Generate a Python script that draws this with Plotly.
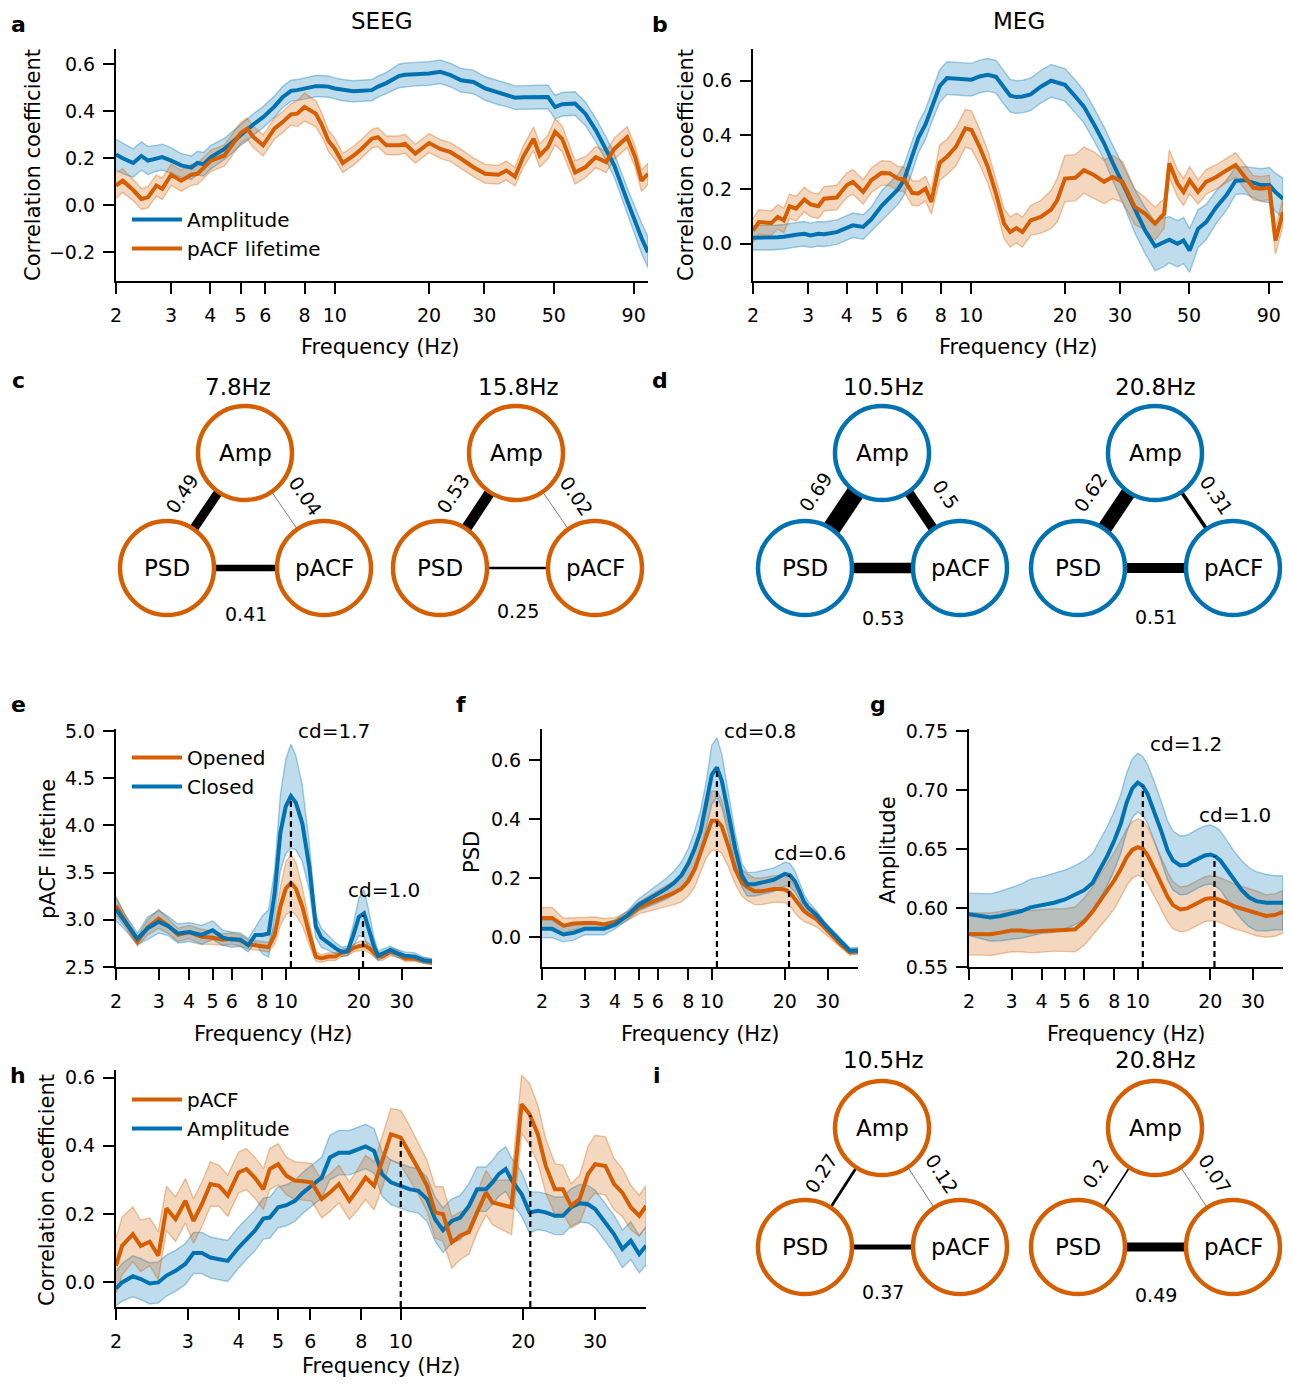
import numpy as np
import plotly.graph_objects as go

# ------------------------------------------------------------------ data
TICKS_AB = [2, 3, 4, 5, 6, 8, 10, 20, 30, 50, 90]
TICKS_EH = [2, 3, 4, 5, 6, 8, 10, 20, 30]

# panel a (SEEG)
A_FREQ = [2.0, 2.1, 2.27, 2.41, 2.53, 2.69, 2.81, 3.0, 3.23, 3.48,
          3.64, 3.81, 4.02, 4.44, 4.72, 5.0, 5.25, 5.5, 5.9, 6.41,
          6.81, 7.24, 7.58, 8.0, 8.69, 9.1, 9.52, 10.0, 10.6, 11.44,
          12.16, 13.12, 13.73, 14.6, 16.0, 16.74, 18.07, 20.0, 21.7, 23.4,
          25.3, 27.7, 30.2, 33.3, 35.3, 37.6, 39.9, 43.1, 45.1, 47.9,
          50.5, 53.2, 58.5, 63.1, 68.1, 73.5, 78.0, 85.8, 91.0, 95.4, 100.0]
A_AMP = [0.216, 0.20, 0.18, 0.21, 0.19, 0.20, 0.205, 0.19, 0.17, 0.16,
         0.18, 0.175, 0.205, 0.24, 0.27, 0.30, 0.32, 0.345, 0.375, 0.42,
         0.46, 0.487, 0.49, 0.497, 0.507, 0.507, 0.505, 0.497, 0.49, 0.485,
         0.487, 0.49, 0.505, 0.52, 0.55, 0.555, 0.558, 0.561, 0.568, 0.554,
         0.532, 0.525, 0.497, 0.478, 0.47, 0.458, 0.46, 0.461, 0.461, 0.461,
         0.418, 0.43, 0.433, 0.39, 0.32, 0.24, 0.17, 0.02, -0.07, -0.14, -0.2]
A_AMP_ERR = [0.065, 0.065, 0.060, 0.060, 0.060, 0.055, 0.055, 0.055, 0.050, 0.050,
             0.050, 0.050, 0.050, 0.045, 0.045, 0.045, 0.045, 0.045, 0.045, 0.045,
             0.045, 0.045, 0.045, 0.045, 0.045, 0.045, 0.045, 0.045, 0.045, 0.045,
             0.045, 0.045, 0.045, 0.045, 0.050, 0.050, 0.050, 0.050, 0.050, 0.050,
             0.050, 0.050, 0.050, 0.050, 0.050, 0.050, 0.050, 0.050, 0.050, 0.050,
             0.050, 0.050, 0.050, 0.050, 0.050, 0.050, 0.050, 0.055, 0.060, 0.065, 0.065]
A_PACF = [0.084, 0.105, 0.065, 0.027, 0.034, 0.084, 0.07, 0.13, 0.105, 0.13,
          0.134, 0.16, 0.19, 0.212, 0.262, 0.307, 0.326, 0.29, 0.255, 0.326,
          0.354, 0.387, 0.39, 0.418, 0.39, 0.34, 0.276, 0.24, 0.18, 0.21,
          0.24, 0.283, 0.29, 0.255, 0.255, 0.262, 0.22, 0.265, 0.24, 0.226,
          0.198, 0.162, 0.134, 0.13, 0.148, 0.122, 0.205, 0.283, 0.212, 0.248,
          0.312, 0.283, 0.14, 0.162, 0.205, 0.184, 0.24, 0.29, 0.205, 0.105, 0.134]
A_PACF_ERR = [0.055, 0.050, 0.045, 0.045, 0.045, 0.045, 0.045, 0.045, 0.045, 0.045,
              0.045, 0.045, 0.045, 0.045, 0.045, 0.045, 0.045, 0.045, 0.045, 0.045,
              0.045, 0.045, 0.055, 0.060, 0.055, 0.050, 0.045, 0.045, 0.040, 0.040,
              0.040, 0.040, 0.040, 0.040, 0.040, 0.040, 0.040, 0.040, 0.040, 0.040,
              0.040, 0.040, 0.040, 0.040, 0.040, 0.040, 0.045, 0.050, 0.050, 0.050,
              0.055, 0.055, 0.050, 0.045, 0.045, 0.045, 0.045, 0.045, 0.045, 0.045, 0.045]

# panel b (MEG)
B_FREQ = [2.0, 2.09, 2.29, 2.4, 2.51, 2.62, 2.75, 2.92, 3.06, 3.24,
          3.38, 3.71, 4.0, 4.18, 4.51, 4.79, 5.17, 5.49, 5.83, 6.1,
          6.48, 6.78, 7.15, 7.46, 7.93, 8.37, 8.94, 9.59, 10.03, 10.65,
          11.32, 12.02, 12.76, 13.35, 13.97, 14.62, 15.52, 16.73, 18.05, 18.88,
          20.0, 21.6, 23.0, 24.77, 26.7, 28.4, 30.6, 33.5, 36.1, 38.9,
          41.6, 43.2, 45.9, 48.0, 50.2, 53.4, 56.7, 61.1, 66.0, 70.5,
          75.5, 80.3, 85.1, 90.4, 94.6, 100.0]
B_AMP = [0.022, 0.022, 0.022, 0.024, 0.026, 0.028, 0.033, 0.037, 0.031, 0.037,
         0.035, 0.043, 0.058, 0.068, 0.062, 0.090, 0.140, 0.170, 0.200, 0.235,
         0.320, 0.390, 0.440, 0.500, 0.580, 0.610, 0.607, 0.605, 0.604, 0.616,
         0.622, 0.615, 0.573, 0.545, 0.540, 0.542, 0.550, 0.578, 0.600, 0.594,
         0.585, 0.542, 0.505, 0.440, 0.370, 0.300, 0.222, 0.120, 0.050, -0.009,
         0.006, 0.015, 0.000, 0.012, -0.025, 0.055, 0.080, 0.135, 0.180, 0.232,
         0.234, 0.224, 0.216, 0.216, 0.190, 0.166]
B_AMP_ERR = [0.045, 0.045, 0.045, 0.045, 0.045, 0.045, 0.045, 0.045, 0.045, 0.045,
             0.045, 0.045, 0.045, 0.045, 0.045, 0.045, 0.055, 0.055, 0.055, 0.055,
             0.055, 0.055, 0.055, 0.055, 0.060, 0.060, 0.060, 0.060, 0.060, 0.060,
             0.060, 0.060, 0.060, 0.060, 0.060, 0.060, 0.060, 0.060, 0.060, 0.060,
             0.060, 0.060, 0.060, 0.060, 0.060, 0.065, 0.070, 0.080, 0.085, 0.090,
             0.090, 0.085, 0.085, 0.085, 0.080, 0.070, 0.065, 0.060, 0.055, 0.050,
             0.050, 0.055, 0.060, 0.065, 0.070, 0.075]
B_PACF = [0.049, 0.080, 0.076, 0.099, 0.086, 0.138, 0.129, 0.163, 0.145, 0.138,
          0.166, 0.170, 0.216, 0.228, 0.191, 0.234, 0.261, 0.259, 0.240, 0.237,
          0.187, 0.185, 0.203, 0.154, 0.298, 0.320, 0.357, 0.425, 0.419, 0.357,
          0.283, 0.185, 0.074, 0.043, 0.058, 0.043, 0.086, 0.099, 0.126, 0.160,
          0.240, 0.243, 0.271, 0.253, 0.228, 0.246, 0.228, 0.136, 0.111, 0.074,
          0.111, 0.296, 0.222, 0.191, 0.234, 0.191, 0.228, 0.246, 0.271, 0.290,
          0.246, 0.206, 0.203, 0.207, 0.012, 0.117]
B_PACF_ERR = [0.045, 0.045, 0.045, 0.045, 0.045, 0.045, 0.045, 0.045, 0.045, 0.045,
              0.045, 0.045, 0.045, 0.045, 0.045, 0.045, 0.045, 0.045, 0.045, 0.045,
              0.045, 0.045, 0.045, 0.045, 0.065, 0.065, 0.070, 0.070, 0.070, 0.065,
              0.060, 0.055, 0.055, 0.055, 0.055, 0.055, 0.055, 0.060, 0.070, 0.080,
              0.085, 0.085, 0.085, 0.085, 0.080, 0.080, 0.075, 0.065, 0.060, 0.060,
              0.055, 0.050, 0.050, 0.050, 0.050, 0.045, 0.045, 0.045, 0.045, 0.045,
              0.045, 0.045, 0.045, 0.045, 0.050, 0.050]

# panels e, f, g (eyes opened / closed)
EYE_FREQ = [2.0, 2.2, 2.45, 2.7, 3.0, 3.3, 3.6, 4.0, 4.5, 5.0,
            5.5, 6.0, 6.5, 7.0, 7.5, 8.0, 8.5, 9.0, 9.5, 10.0,
            10.5, 11.0, 11.7, 12.5, 13.3, 14.0, 15.0, 16.0, 17.0, 18.0,
            19.0, 20.0, 21.0, 22.0, 23.0, 24.0, 25.0, 27.0, 29.0, 31.0,
            34.0, 37.0, 40.0]
E_OPEN = [3.15, 2.97, 2.77, 2.92, 3.01, 2.93, 2.84, 2.87, 2.82, 2.81,
          2.79, 2.80, 2.78, 2.74, 2.73, 2.72, 2.71, 2.84, 3.14, 3.33,
          3.39, 3.33, 3.14, 2.85, 2.61, 2.59, 2.61, 2.61, 2.65, 2.66,
          2.70, 2.72, 2.73, 2.70, 2.65, 2.61, 2.61, 2.66, 2.64, 2.59,
          2.59, 2.57, 2.55]
E_OPEN_ERR = [0.10, 0.06, 0.05, 0.08, 0.10, 0.08, 0.07, 0.07, 0.08, 0.07,
              0.06, 0.06, 0.06, 0.05, 0.05, 0.05, 0.05, 0.10, 0.20, 0.28,
              0.30, 0.28, 0.20, 0.12, 0.05, 0.04, 0.04, 0.04, 0.04, 0.04,
              0.04, 0.05, 0.05, 0.05, 0.04, 0.04, 0.04, 0.04, 0.04, 0.03,
              0.03, 0.03, 0.03]
E_CLOSED = [3.11, 2.96, 2.80, 2.91, 2.98, 2.93, 2.855, 2.87, 2.84, 2.89,
            2.81, 2.79, 2.79, 2.73, 2.84, 2.84, 2.855, 3.28, 3.92, 4.20,
            4.31, 4.24, 4.02, 3.56, 2.93, 2.81, 2.75, 2.70, 2.66, 2.67,
            2.84, 3.03, 3.07, 2.89, 2.73, 2.62, 2.64, 2.68, 2.64, 2.62,
            2.61, 2.57, 2.56]
E_CLOSED_ERR = [0.12, 0.08, 0.06, 0.12, 0.12, 0.10, 0.10, 0.10, 0.10, 0.10,
                0.08, 0.08, 0.07, 0.07, 0.08, 0.20, 0.25, 0.25, 0.40, 0.50,
                0.55, 0.50, 0.40, 0.25, 0.12, 0.10, 0.08, 0.06, 0.05, 0.05,
                0.12, 0.20, 0.25, 0.20, 0.10, 0.05, 0.05, 0.04, 0.04, 0.04,
                0.04, 0.03, 0.03]

F_OPEN = [0.066, 0.066, 0.040, 0.047, 0.049, 0.049, 0.044, 0.052, 0.072, 0.100,
          0.115, 0.128, 0.139, 0.151, 0.165, 0.190, 0.230, 0.290, 0.350, 0.395,
          0.395, 0.375, 0.310, 0.230, 0.185, 0.170, 0.156, 0.156, 0.160, 0.164,
          0.164, 0.162, 0.151, 0.128, 0.106, 0.089, 0.078, 0.061, 0.035, 0.010,
          -0.024, -0.050, -0.046]
F_OPEN_ERR = [0.035, 0.035, 0.025, 0.020, 0.020, 0.020, 0.020, 0.015, 0.015, 0.020,
              0.025, 0.030, 0.035, 0.040, 0.045, 0.050, 0.060, 0.070, 0.080, 0.100,
              0.100, 0.090, 0.070, 0.050, 0.045, 0.045, 0.045, 0.045, 0.045, 0.045,
              0.045, 0.045, 0.045, 0.045, 0.040, 0.035, 0.030, 0.025, 0.020, 0.015,
              0.010, 0.010, 0.010]
F_CLOSED = [0.029, 0.029, 0.010, 0.016, 0.029, 0.029, 0.029, 0.044, 0.075, 0.110,
            0.130, 0.148, 0.165, 0.185, 0.210, 0.250, 0.300, 0.360, 0.450, 0.550,
            0.575, 0.530, 0.420, 0.300, 0.210, 0.180, 0.180, 0.185, 0.190, 0.195,
            0.205, 0.215, 0.210, 0.190, 0.155, 0.120, 0.100, 0.075, 0.045, 0.020,
            -0.015, -0.045, -0.045]
F_CLOSED_ERR = [0.030, 0.030, 0.025, 0.025, 0.020, 0.020, 0.020, 0.015, 0.015, 0.020,
                0.025, 0.030, 0.035, 0.040, 0.045, 0.050, 0.060, 0.070, 0.080, 0.100,
                0.100, 0.090, 0.070, 0.050, 0.040, 0.040, 0.040, 0.040, 0.040, 0.040,
                0.040, 0.040, 0.040, 0.035, 0.030, 0.025, 0.020, 0.015, 0.010, 0.010,
                0.010, 0.010, 0.010]

G_OPEN = [0.5781, 0.5781, 0.5778, 0.5792, 0.5809, 0.5809, 0.5800, 0.5806, 0.5815, 0.5815,
          0.5820, 0.5885, 0.5970, 0.6067, 0.6150, 0.6236, 0.6330, 0.6430, 0.6494, 0.6517,
          0.6503, 0.6447, 0.6334, 0.6208, 0.6096, 0.6025, 0.5989, 0.5997, 0.6025, 0.6053,
          0.6076, 0.6084, 0.6081, 0.6067, 0.6053, 0.6034, 0.6017, 0.5997, 0.5978, 0.5955,
          0.5933, 0.5941, 0.5969]
G_OPEN_ERR = [0.018, 0.018, 0.018, 0.018, 0.018, 0.018, 0.018, 0.018, 0.018, 0.018,
              0.019, 0.020, 0.021, 0.022, 0.023, 0.024, 0.024, 0.024, 0.024, 0.024,
              0.024, 0.024, 0.023, 0.022, 0.021, 0.020, 0.019, 0.019, 0.019, 0.019,
              0.019, 0.019, 0.019, 0.019, 0.019, 0.019, 0.019, 0.019, 0.019, 0.019,
              0.018, 0.018, 0.018]
G_CLOSED = [0.5947, 0.5933, 0.5921, 0.5933, 0.5955, 0.5975, 0.6006, 0.6025, 0.6045, 0.6073,
            0.6110, 0.6152, 0.6213, 0.6334, 0.6447, 0.6573, 0.6713, 0.6896, 0.7017, 0.7065,
            0.7037, 0.6966, 0.6826, 0.6657, 0.6489, 0.6404, 0.6362, 0.6368, 0.6399, 0.6427,
            0.6447, 0.6455, 0.6438, 0.6404, 0.6348, 0.6292, 0.6236, 0.6152, 0.6090, 0.6059,
            0.6045, 0.6045, 0.6045]
G_CLOSED_ERR = [0.018, 0.019, 0.020, 0.021, 0.022, 0.023, 0.024, 0.024, 0.025, 0.025,
                0.025, 0.025, 0.025, 0.025, 0.025, 0.025, 0.025, 0.025, 0.025, 0.025,
                0.025, 0.025, 0.025, 0.025, 0.025, 0.025, 0.025, 0.025, 0.025, 0.025,
                0.025, 0.025, 0.025, 0.025, 0.025, 0.025, 0.025, 0.025, 0.025, 0.025,
                0.024, 0.023, 0.023]

# panel h
H_FREQ = [2.0, 2.07, 2.2, 2.3, 2.42, 2.54, 2.66, 2.8, 2.96, 3.1,
          3.25, 3.41, 3.58, 3.76, 4.0, 4.18, 4.38, 4.6, 4.77, 5.0,
          5.24, 5.5, 5.76, 6.04, 6.4, 6.7, 7.05, 7.48, 7.85, 8.2,
          8.6, 9.0, 9.46, 10.0, 10.5, 11.05, 11.6, 12.15, 12.7, 13.35,
          14.0, 14.7, 15.4, 16.2, 16.8, 17.4, 18.1, 18.7, 19.8, 20.7,
          21.7, 22.7, 23.9, 25.0, 26.2, 27.5, 28.8, 30.0, 31.8, 33.4,
          35.0, 36.7, 38.5, 40.0]
H_PACF = [0.049, 0.107, 0.141, 0.107, 0.119, 0.078, 0.217, 0.185, 0.239, 0.180,
          0.229, 0.288, 0.283, 0.254, 0.322, 0.332, 0.307, 0.273, 0.332, 0.346,
          0.312, 0.298, 0.296, 0.293, 0.244, 0.263, 0.288, 0.239, 0.273, 0.307,
          0.283, 0.351, 0.434, 0.424, 0.380, 0.332, 0.283, 0.205, 0.200, 0.117,
          0.137, 0.148, 0.205, 0.263, 0.234, 0.229, 0.224, 0.220, 0.522, 0.493,
          0.434, 0.341, 0.273, 0.273, 0.224, 0.244, 0.317, 0.346, 0.341, 0.288,
          0.263, 0.220, 0.195, 0.224]
H_PACF_ERR = [0.080, 0.085, 0.080, 0.075, 0.070, 0.070, 0.065, 0.065, 0.065, 0.065,
              0.065, 0.065, 0.060, 0.060, 0.060, 0.060, 0.060, 0.060, 0.060, 0.060,
              0.055, 0.055, 0.055, 0.055, 0.055, 0.055, 0.055, 0.055, 0.060, 0.065,
              0.070, 0.075, 0.075, 0.080, 0.080, 0.075, 0.075, 0.075, 0.080, 0.075,
              0.070, 0.065, 0.060, 0.065, 0.065, 0.070, 0.075, 0.080, 0.085, 0.090,
              0.085, 0.080, 0.075, 0.070, 0.065, 0.070, 0.080, 0.085, 0.085, 0.075,
              0.070, 0.065, 0.060, 0.060]
H_AMP = [-0.018, 0.000, 0.018, 0.010, -0.003, 0.000, 0.020, 0.034, 0.054, 0.086,
         0.086, 0.073, 0.068, 0.063, 0.102, 0.127, 0.151, 0.187, 0.190, 0.220,
         0.226, 0.239, 0.263, 0.283, 0.307, 0.366, 0.380, 0.380, 0.390, 0.398,
         0.385, 0.317, 0.293, 0.283, 0.273, 0.268, 0.244, 0.185, 0.153, 0.180,
         0.190, 0.224, 0.273, 0.273, 0.293, 0.317, 0.332, 0.300, 0.259, 0.205,
         0.210, 0.205, 0.195, 0.195, 0.220, 0.232, 0.229, 0.215, 0.176, 0.141,
         0.098, 0.122, 0.083, 0.107]
H_AMP_ERR = [0.050, 0.055, 0.060, 0.060, 0.060, 0.060, 0.060, 0.060, 0.060, 0.060,
             0.060, 0.060, 0.060, 0.060, 0.060, 0.060, 0.060, 0.060, 0.060, 0.060,
             0.060, 0.060, 0.060, 0.060, 0.060, 0.065, 0.065, 0.065, 0.065, 0.065,
             0.065, 0.065, 0.065, 0.065, 0.065, 0.065, 0.065, 0.065, 0.065, 0.065,
             0.065, 0.065, 0.065, 0.065, 0.065, 0.065, 0.065, 0.065, 0.065, 0.060,
             0.055, 0.055, 0.055, 0.055, 0.055, 0.055, 0.055, 0.055, 0.055, 0.055,
             0.055, 0.055, 0.055, 0.055]

# peaks (dashed lines) and Cohen's d labels
E_PEAK_FREQ = [10.5, 20.8]
E_PEAK_VAL = [4.30, 3.05]
E_CD = ["cd=1.7", "cd=1.0"]
F_PEAK_FREQ = [10.5, 20.8]
F_PEAK_VAL = [0.575, 0.21]
F_CD = ["cd=0.8", "cd=0.6"]
G_PEAK_FREQ = [10.5, 20.8]
G_PEAK_VAL = [0.7037, 0.644]
G_CD = ["cd=1.2", "cd=1.0"]
H_PEAK_FREQ = [10.0, 20.8]
H_PEAK_VAL = [0.42, 0.49]

# networks (c, d, i)
NET_TITLES = ["7.8Hz", "15.8Hz", "10.5Hz", "20.8Hz", "10.5Hz", "20.8Hz"]
NET_NODES = ["Amp", "PSD", "pACF"]
NET_AMP_PSD = [0.49, 0.53, 0.69, 0.62, 0.27, 0.2]
NET_AMP_PACF = [0.04, 0.02, 0.5, 0.31, 0.12, 0.07]
NET_PSD_PACF = [0.41, 0.25, 0.53, 0.51, 0.37, 0.49]
NET_SOURCE = ["SEEG", "SEEG", "MEG", "MEG", "EEG", "EEG"]

# ------------------------------------------------------------------ style
WIN_W, WIN_H = 1291, 1387
OFF = 8  # default page body margin
W, H = WIN_W - 2 * OFF, WIN_H - 2 * OFF
FONT = "DejaVu Sans"
BLUE = (0, 114, 178)
ORANGE = (213, 94, 0)


def rgba(c, a=1.0):
    return f"rgba({c[0]},{c[1]},{c[2]},{a})"


def px(x):
    return (x - OFF) / W


def py(y):
    return 1 - (y - OFF) / H


def dom(a, b, f):
    return [max(0.0, min(1.0, f(a))), max(0.0, min(1.0, f(b)))]


fig = go.Figure()

# axes layout (pixel boxes in window coordinates)
AXES = {
    1: dict(x=(116, 648), y=(49, 281), xr=(2, 100), yr=(-0.322, 0.665), xt=TICKS_AB,
            yt=[-0.2, 0, 0.2, 0.4, 0.6], fmt=".1f"),
    2: dict(x=(753, 1283), y=(49, 281), xr=(2, 100), yr=(-0.137, 0.717), xt=TICKS_AB,
            yt=[0, 0.2, 0.4, 0.6], fmt=".1f"),
    3: dict(x=(116, 432), y=(729, 967), xr=(2, 40), yr=(2.5, 5.02), xt=TICKS_EH,
            yt=[2.5, 3, 3.5, 4, 4.5, 5], fmt=".1f"),
    4: dict(x=(542, 858), y=(729, 967), xr=(2, 40), yr=(-0.1, 0.705), xt=TICKS_EH,
            yt=[0, 0.2, 0.4, 0.6], fmt=".1f"),
    5: dict(x=(969, 1283), y=(729, 967), xr=(2, 40), yr=(0.55, 0.752), xt=TICKS_EH,
            yt=[0.55, 0.6, 0.65, 0.7, 0.75], fmt=".2f"),
    6: dict(x=(116, 646), y=(1070, 1307), xr=(2, 40), yr=(-0.072, 0.622), xt=TICKS_EH,
            yt=[0, 0.2, 0.4, 0.6], fmt=".1f"),
}

axis_common = dict(showline=True, linecolor="black", linewidth=2.2, ticks="outside",
                   ticklen=11, tickwidth=2.2, tickcolor="black", showgrid=False,
                   zeroline=False, automargin=False,
                   tickfont=dict(size=19, family=FONT, color="black"))
for i, a in AXES.items():
    xk = "xaxis" if i == 1 else f"xaxis{i}"
    yk = "yaxis" if i == 1 else f"yaxis{i}"
    xs = "x" if i == 1 else f"x{i}"
    ys = "y" if i == 1 else f"y{i}"
    fig.layout[xk] = dict(domain=dom(a["x"][0], a["x"][1], px), type="log",
                          range=[np.log10(a["xr"][0]), np.log10(a["xr"][1])],
                          tickvals=a["xt"], ticktext=[str(t) for t in a["xt"]],
                          anchor=ys, ticklabelstandoff=5, **axis_common)
    fig.layout[yk] = dict(domain=dom(a["y"][1], a["y"][0], py), range=list(a["yr"]),
                          tickvals=a["yt"], tickformat=a["fmt"], anchor=xs,
                          ticklabelstandoff=4, **axis_common)


def ax_ref(i):
    return ("x" if i == 1 else f"x{i}"), ("y" if i == 1 else f"y{i}")


def add_band(i, freq, mean, err, color):
    xa, ya = ax_ref(i)
    f = np.asarray(freq, float)
    m = np.asarray(mean, float)
    e = np.asarray(err, float)
    fig.add_trace(go.Scatter(
        x=np.concatenate([f, f[::-1]]), y=np.concatenate([m + e, (m - e)[::-1]]),
        fill="toself", fillcolor=rgba(color, 0.25), mode="lines",
        line=dict(color=rgba(color, 0.35), width=1.4), xaxis=xa, yaxis=ya,
        showlegend=False, hoverinfo="skip"))


def add_line(i, freq, mean, color, name=None, legend=None, rank=None):
    xa, ya = ax_ref(i)
    fig.add_trace(go.Scatter(
        x=freq, y=mean, mode="lines", line=dict(color=rgba(color), width=4),
        xaxis=xa, yaxis=ya, name=name, showlegend=name is not None,
        legend=legend if legend else "legend", legendrank=rank if rank else 1000,
        hoverinfo="skip"))


def add_peaks(i, freqs, vals):
    xa, ya = ax_ref(i)
    y0 = AXES[i]["yr"][0]
    for f, v in zip(freqs, vals):
        fig.add_trace(go.Scatter(x=[f, f], y=[y0, v], mode="lines",
                                 line=dict(color="black", width=2.2, dash="6px,4px"),
                                 xaxis=xa, yaxis=ya, showlegend=False, hoverinfo="skip"))


# panel a
add_band(1, A_FREQ, A_AMP, A_AMP_ERR, BLUE)
add_band(1, A_FREQ, A_PACF, A_PACF_ERR, ORANGE)
add_line(1, A_FREQ, A_AMP, BLUE, "Amplitude", "legend", 1)
add_line(1, A_FREQ, A_PACF, ORANGE, "pACF lifetime", "legend", 2)
# panel b
add_band(2, B_FREQ, B_AMP, B_AMP_ERR, BLUE)
add_band(2, B_FREQ, B_PACF, B_PACF_ERR, ORANGE)
add_line(2, B_FREQ, B_AMP, BLUE)
add_line(2, B_FREQ, B_PACF, ORANGE)
# panel e
add_band(3, EYE_FREQ, E_OPEN, E_OPEN_ERR, ORANGE)
add_band(3, EYE_FREQ, E_CLOSED, E_CLOSED_ERR, BLUE)
add_line(3, EYE_FREQ, E_OPEN, ORANGE, "Opened", "legend2", 1)
add_line(3, EYE_FREQ, E_CLOSED, BLUE, "Closed", "legend2", 2)
add_peaks(3, E_PEAK_FREQ, E_PEAK_VAL)
# panel f
add_band(4, EYE_FREQ, F_OPEN, F_OPEN_ERR, ORANGE)
add_band(4, EYE_FREQ, F_CLOSED, F_CLOSED_ERR, BLUE)
add_line(4, EYE_FREQ, F_OPEN, ORANGE)
add_line(4, EYE_FREQ, F_CLOSED, BLUE)
add_peaks(4, F_PEAK_FREQ, F_PEAK_VAL)
# panel g
add_band(5, EYE_FREQ, G_OPEN, G_OPEN_ERR, ORANGE)
add_band(5, EYE_FREQ, G_CLOSED, G_CLOSED_ERR, BLUE)
add_line(5, EYE_FREQ, G_OPEN, ORANGE)
add_line(5, EYE_FREQ, G_CLOSED, BLUE)
add_peaks(5, G_PEAK_FREQ, G_PEAK_VAL)
# panel h
add_band(6, H_FREQ, H_AMP, H_AMP_ERR, BLUE)
add_band(6, H_FREQ, H_PACF, H_PACF_ERR, ORANGE)
add_line(6, H_FREQ, H_AMP, BLUE, "Amplitude", "legend3", 2)
add_line(6, H_FREQ, H_PACF, ORANGE, "pACF", "legend3", 1)
add_peaks(6, H_PEAK_FREQ, H_PEAK_VAL)


# ------------------------------------------------------------------ text helpers
def text(x, y, s, size, bold=False, angle=0, xanchor="center", yanchor="middle"):
    fig.add_annotation(x=px(x), y=py(y), xref="paper", yref="paper",
                       text=f"<b>{s}</b>" if bold else s, showarrow=False,
                       font=dict(size=size, family=FONT, color="black"),
                       textangle=angle, xanchor=xanchor, yanchor=yanchor)


# panel letters
for s, (x, y) in zip("abcdefghi", [(18, 25), (660, 25), (18, 380), (660, 380), (18, 705),
                                     (461, 705), (878, 705), (18, 1075), (657, 1075)]):
    text(x, y, s, 22, bold=True)

text(382, 21, "SEEG", 23)
text(1019, 21, "MEG", 23)

# axis titles
for (x, y) in [(380, 347), (1018, 347), (273, 1034), (700, 1034), (1126, 1034), (381, 1366)]:
    text(x, y, "Frequency (Hz)", 21)
for (x, y, s) in [(33, 165, "Correlation coefficient"), (686, 165, "Correlation coefficient"),
                  (48, 849, "pACF lifetime"), (472, 852, "PSD"), (888, 850, "Amplitude"),
                  (47, 1190, "Correlation coefficient")]:
    text(x, y, s, 21, angle=-90)

# cd labels
CD_Y = {3: [5.0, 3.32], 4: [0.698, 0.287], 5: [0.739, 0.679]}
CD_SHIFT = [5, -17]
for i, freqs, labels in [(3, E_PEAK_FREQ, E_CD), (4, F_PEAK_FREQ, F_CD), (5, G_PEAK_FREQ, G_CD)]:
    xa, ya = ax_ref(i)
    for k, (f, lab) in enumerate(zip(freqs, labels)):
        fig.add_annotation(x=np.log10(f), y=CD_Y[i][k], xref=xa, yref=ya, text=lab,
                           showarrow=False, xanchor="left", yanchor="middle",
                           xshift=CD_SHIFT[k], font=dict(size=20, family=FONT, color="black"))

# ------------------------------------------------------------------ networks
NET_POS = [  # (Amp x, Amp y, PSD x, pACF x, bottom y, title x, title y)
    (245, 453, 167, 324, 568, 238, 387),
    (516, 453, 440, 595, 568, 518, 387),
    (882, 453, 805, 960, 568, 883, 387),
    (1155, 453, 1078, 1233, 568, 1155, 387),
    (882, 1128, 805, 960, 1247, 883, 1060),
    (1155, 1128, 1078, 1233, 1247, 1155, 1060),
]
R = 47
SRC_COLOR = {"SEEG": ORANGE, "MEG": BLUE, "EEG": ORANGE}
shapes = []
for k in range(len(NET_TITLES)):
    ax_, ay_, psx, pax, by, tx, ty = NET_POS[k]
    col = rgba(SRC_COLOR[NET_SOURCE[k]])
    nodes = {"Amp": (ax_, ay_), "PSD": (psx, by), "pACF": (pax, by)}
    edges = [("Amp", "PSD", NET_AMP_PSD[k]), ("Amp", "pACF", NET_AMP_PACF[k]),
             ("PSD", "pACF", NET_PSD_PACF[k])]
    for n1, n2, v in edges:
        (x1, y1), (x2, y2) = nodes[n1], nodes[n2]
        w = max(38 * v * v, 0.5)
        shapes.append(dict(type="line", xref="paper", yref="paper",
                           x0=px(x1), y0=py(y1), x1=px(x2), y1=py(y2),
                           line=dict(color="black", width=w)))
        mx, my = (x1 + x2) / 2, (y1 + y2) / 2
        dx, dy = x2 - x1, y2 - y1
        L = np.hypot(dx, dy)
        d = 25 + w / 2
        if n2 == "PSD" and n1 == "Amp":
            nx, ny = -abs(dy) / L, -abs(dx) / L
            ang = -np.degrees(np.arctan2(abs(dy), abs(dx)))
            text(mx + d * nx, my + d * ny, str(v), 19, angle=ang)
        elif n2 == "pACF" and n1 == "Amp":
            nx, ny = abs(dy) / L, -abs(dx) / L
            ang = np.degrees(np.arctan2(abs(dy), abs(dx)))
            text(mx + d * nx, my + d * ny, str(v), 19, angle=ang)
        else:
            text(mx, my + 41 + 0.8 * w, str(v), 19)
    for name, (cx, cy) in nodes.items():
        shapes.append(dict(type="circle", xref="paper", yref="paper",
                           x0=px(cx - R), x1=px(cx + R), y0=py(cy + R), y1=py(cy - R),
                           line=dict(color=col, width=4.5), fillcolor="white"))
        text(cx, cy, name, 23)
    text(tx, ty, NET_TITLES[k], 23)

leg_common = dict(xanchor="left", yanchor="top", bgcolor="rgba(0,0,0,0)",
                  font=dict(size=20, family=FONT, color="black"), tracegroupgap=0,
                  itemwidth=50, borderwidth=0)
fig.update_layout(
    width=W, height=H, margin=dict(l=0, r=0, t=0, b=0, autoexpand=False),
    plot_bgcolor="white", paper_bgcolor="white", shapes=shapes,
    font=dict(family=FONT, color="black"),
    legend=dict(x=px(127), y=py(200), **leg_common),
    legend2=dict(x=px(127), y=py(738), **leg_common),
    legend3=dict(x=px(127), y=py(1080), **leg_common),
)

fig.write_html("out.html")
